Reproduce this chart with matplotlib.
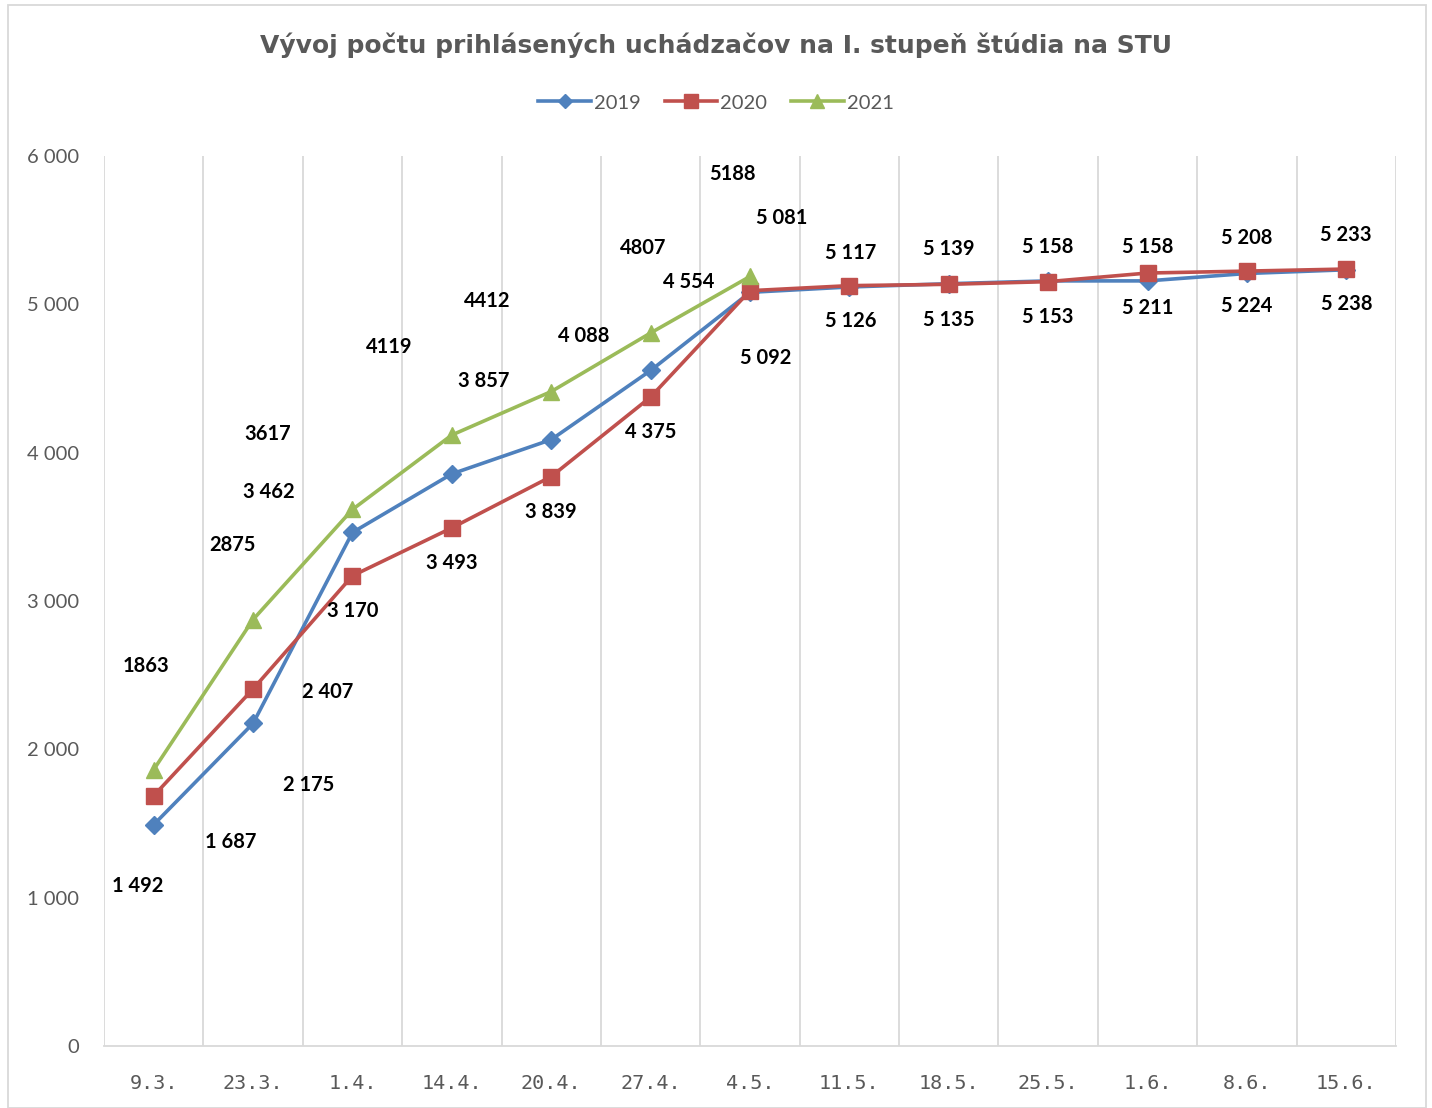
import matplotlib.pyplot as plt
from matplotlib.patches import Rectangle
from matplotlib.ticker import FuncFormatter
from matplotlib.lines import Line2D

# data
dates = ['9.3.', '23.3.', '1.4.', '14.4.', '20.4.', '27.4.', '4.5.',
         '11.5.', '18.5.', '25.5.', '1.6.', '8.6.', '15.6.']
y2019 = [1492, 2175, 3462, 3857, 4088, 4554, 5081, 5117, 5139, 5158, 5158, 5208, 5233]
y2020 = [1687, 2407, 3170, 3493, 3839, 4375, 5092, 5126, 5135, 5153, 5211, 5224, 5238]
y2021 = [1863, 2875, 3617, 4119, 4412, 4807, 5188]

# label offsets in pixels (dx right, dy down) as placed in the original chart
off2019 = [(-16, 61), (56, 62), (-84, -40), (32, -93), (32, -104), (38, -88), (32, -74),
           (1, -34), (0, -35), (0, -34), (0, -34), (0, -35), (0, -35)]
off2020 = [(77, 46), (75, 3), (0, 35), (0, 35), (0, 35), (0, 35), (16, 67),
           (1, 35), (0, 36), (0, 35), (0, 35), (0, 35), (0, 35)]
off2021 = [(-8, -104), (-21, -75), (-85, -75), (-63, -88), (-64, -91), (-7, -85), (-18, -102)]

BLUE = '#4F81BD'
RED = '#C0504D'
GREEN = '#9BBB59'
GRAY = '#595959'
GRID = '#D9D9D9'

plt.rcParams['font.family'] = ['Lato', 'DejaVu Sans']


def spaced(v):
    return f"{v:,}".replace(',', ' ')


fig = plt.figure(figsize=(14.32, 11.08), dpi=100)
ax = fig.add_axes([104 / 1432, 1 - 1046 / 1108, 1292 / 1432, 890 / 1108])

x = list(range(len(dates)))
series = [
    ('2019', y2019, BLUE, 'D', 9, off2019, True),
    ('2020', y2020, RED, 's', 12, off2020, True),
    ('2021', y2021, GREEN, '^', 12, off2021, False),
]
for name, vals, col, mk, ms, offs, sep in series:
    xs = x[:len(vals)]
    ax.plot(xs, vals, color=col, lw=2.6, marker=mk, markersize=ms, label=name, zorder=3)
    for xi, v, (dx, dy) in zip(xs, vals, offs):
        txt = spaced(v) if sep else str(v)
        ax.annotate(txt, (xi, v), xytext=(dx, -dy), textcoords='offset pixels',
                    ha='center', va='center', fontsize=14.5, fontweight='bold',
                    color='black', zorder=4)

ax.set_xlim(-0.5, len(dates) - 0.5)
ax.set_ylim(0, 6000)
ax.set_yticks(range(0, 6001, 1000))
ax.yaxis.set_major_formatter(FuncFormatter(lambda v, p: spaced(int(v))))
ax.set_xticks(x)
ax.set_xticklabels(dates, family=['DejaVu Sans Mono'], fontsize=14.5)

# vertical gridlines at category boundaries
for b in range(len(dates) + 1):
    ax.axvline(b - 0.5, color=GRID, lw=1.3, zorder=1)

for s in ['top', 'right', 'left']:
    ax.spines[s].set_visible(False)
ax.spines['bottom'].set_color(GRID)
ax.spines['bottom'].set_linewidth(1.3)
ax.tick_params(axis='both', length=0, colors=GRAY, labelsize=14.5)
ax.tick_params(axis='y', pad=18)
ax.tick_params(axis='x', pad=20)

fig.text(0.5, 1 - 45 / 1108, 'Vývoj počtu prihlásených uchádzačov na I. stupeň štúdia na STU',
         ha='center', va='center', fontsize=18, fontweight='bold', color=GRAY,
         family=['DejaVu Sans'])

handles = [Line2D([], [], color=c, lw=2.6, marker=m, markersize=ms * 0.8)
           for _, _, c, m, ms, _, _ in series]
fig.legend(handles, [s[0] for s in series], loc='center', bbox_to_anchor=(0.5, 1 - 103 / 1108),
           ncol=3, frameon=False, fontsize=14.5, labelcolor=GRAY, handlelength=2.6,
           handletextpad=0.15, columnspacing=1.2)

# outer chart border
fig.patches.append(Rectangle((8 / 1432, 0), 1418 / 1432, 1 - 5 / 1108, transform=fig.transFigure,
                             fill=False, edgecolor=GRID, lw=1.3))

fig.savefig('out.png', dpi=100)
